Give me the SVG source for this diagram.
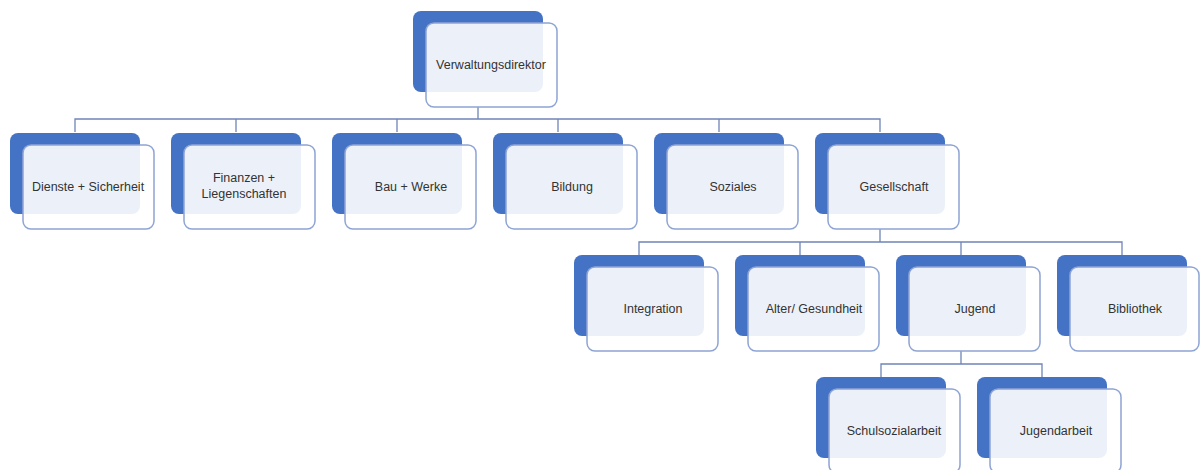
<svg xmlns="http://www.w3.org/2000/svg" width="1200" height="470" viewBox="0 0 1200 470">
<style>
.back{fill:#4472c4;}
.front{fill:#ffffff;fill-opacity:0.9;stroke:#8ea4d5;stroke-width:1.5;}
.lbl{font-family:"Liberation Sans",Arial,sans-serif;font-size:12.5px;fill:#333333;text-anchor:middle;}
.con{fill:none;stroke:#6f84b8;stroke-width:1.3;}
</style>
<rect width="1200" height="470" fill="#ffffff"/>
<g id="connectors">
<path class="con" d="M478,107 V119 M75,132 V119 H880 V132 M236,119 V132 M397,119 V132 M558,119 V132 M719,119 V132"/>
<path class="con" d="M880,229 V242 M639,255 V242 H1122 V255 M800,242 V255 M961,242 V255"/>
<path class="con" d="M961,351 V364 M881,377 V364 H1042 V377"/>
</g>
<g id="n-verwaltungsdirektor"><rect class="back" x="413" y="11" width="130" height="81" rx="8"/><rect class="front" x="426" y="23" width="131" height="84" rx="8"/><text class="lbl" x="491" y="69">Verwaltungsdirektor</text></g>
<g id="n-dienste"><rect class="back" x="10" y="133" width="130" height="81" rx="8"/><rect class="front" x="23" y="145" width="131" height="84" rx="8"/><text class="lbl" x="88" y="191">Dienste + Sicherheit</text></g>
<g id="n-finanzen"><rect class="back" x="171" y="133" width="130" height="81" rx="8"/><rect class="front" x="184" y="145" width="131" height="84" rx="8"/><text class="lbl" x="244" y="182">Finanzen +</text><text class="lbl" x="244" y="198">Liegenschaften</text></g>
<g id="n-bau"><rect class="back" x="332" y="133" width="130" height="81" rx="8"/><rect class="front" x="345" y="145" width="131" height="84" rx="8"/><text class="lbl" x="411" y="191">Bau + Werke</text></g>
<g id="n-bildung"><rect class="back" x="493" y="133" width="130" height="81" rx="8"/><rect class="front" x="506" y="145" width="131" height="84" rx="8"/><text class="lbl" x="572" y="191">Bildung</text></g>
<g id="n-soziales"><rect class="back" x="654" y="133" width="130" height="81" rx="8"/><rect class="front" x="667" y="145" width="131" height="84" rx="8"/><text class="lbl" x="733" y="191">Soziales</text></g>
<g id="n-gesellschaft"><rect class="back" x="815" y="133" width="130" height="81" rx="8"/><rect class="front" x="828" y="145" width="131" height="84" rx="8"/><text class="lbl" x="894" y="191">Gesellschaft</text></g>
<g id="n-integration"><rect class="back" x="574" y="255" width="130" height="81" rx="8"/><rect class="front" x="587" y="267" width="131" height="84" rx="8"/><text class="lbl" x="653" y="313">Integration</text></g>
<g id="n-alter"><rect class="back" x="735" y="255" width="130" height="81" rx="8"/><rect class="front" x="748" y="267" width="131" height="84" rx="8"/><text class="lbl" x="814" y="313">Alter/ Gesundheit</text></g>
<g id="n-jugend"><rect class="back" x="896" y="255" width="130" height="81" rx="8"/><rect class="front" x="909" y="267" width="131" height="84" rx="8"/><text class="lbl" x="975" y="313">Jugend</text></g>
<g id="n-bibliothek"><rect class="back" x="1057" y="255" width="130" height="81" rx="8"/><rect class="front" x="1070" y="267" width="129" height="84" rx="8"/><text class="lbl" x="1135" y="313">Bibliothek</text></g>
<g id="n-schulsozialarbeit"><rect class="back" x="816" y="377" width="130" height="81" rx="8"/><rect class="front" x="829" y="389" width="131" height="84" rx="8"/><text class="lbl" x="894" y="435">Schulsozialarbeit</text></g>
<g id="n-jugendarbeit"><rect class="back" x="977" y="377" width="130" height="81" rx="8"/><rect class="front" x="990" y="389" width="131" height="84" rx="8"/><text class="lbl" x="1056" y="435">Jugendarbeit</text></g>
</svg>
